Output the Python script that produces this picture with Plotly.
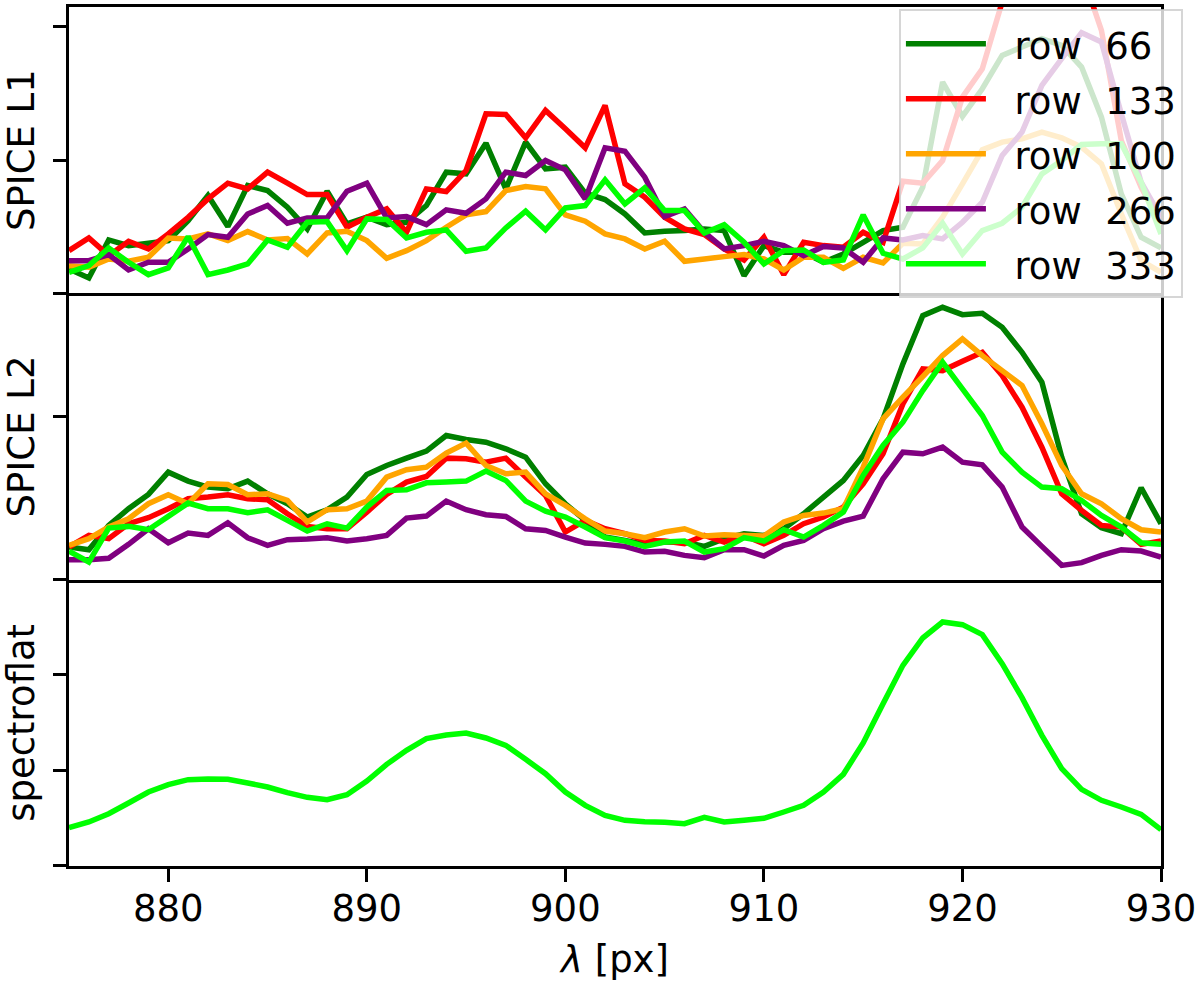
import plotly.graph_objs as go
from plotly.subplots import make_subplots

# wavelength pixels, y units are arbitrary (the original axes have no tick labels)
px = list(range(875, 931))

l1_row66 = [73, 46, 160, 143, 150, 158, 218, 293, 200, 323, 308, 258, 193, 306, 208, 228, 206, 213, 263, 363, 358, 450, 313, 453, 373, 378, 300, 281,
            238, 181, 186, 188, 193, 188, 53, 143, 123, 123, 93, 118, 153, 188, 198, 318, 633, 530, 613, 713, 738, 763, 743, 678, 528, 298, 168, 136]
l1_row133 = [128, 166, 113, 156, 133, 178, 228, 283, 330, 313, 363, 330, 296, 296, 198, 228, 253, 183, 313, 305, 368, 538, 536, 466, 548, 493, 436, 563,
             328, 288, 228, 193, 176, 133, 100, 168, 56, 153, 143, 138, 183, 153, 336, 330, 398, 588, 673, 873, 1118, 1178, 1158, 963, 788, 458, 318, 208]
l1_row100 = [83, 78, 103, 96, 108, 166, 163, 178, 158, 185, 160, 164, 118, 181, 186, 158, 105, 128, 158, 198, 235, 245, 308, 320, 313, 235, 216, 178,
             163, 133, 156, 96, 103, 110, 116, 103, 70, 108, 108, 75, 108, 91, 150, 148, 228, 328, 430, 453, 463, 483, 466, 438, 388, 238, 98, 63]
l1_row266 = [98, 98, 116, 70, 93, 93, 133, 176, 168, 238, 263, 210, 226, 226, 306, 330, 226, 230, 206, 250, 240, 283, 363, 353, 398, 370, 283, 436,
             426, 348, 230, 253, 183, 133, 143, 156, 143, 113, 140, 136, 93, 166, 160, 173, 163, 213, 273, 413, 483, 623, 703, 781, 753, 538, 333, 228]
l1_row333 = [63, 83, 136, 93, 56, 76, 170, 56, 70, 88, 160, 138, 213, 215, 128, 223, 221, 166, 183, 190, 126, 136, 196, 246, 190, 256, 263, 340,
             268, 316, 248, 248, 181, 206, 153, 88, 128, 130, 93, 100, 235, 120, 103, 136, 210, 118, 188, 210, 258, 358, 398, 446, 448, 448, 333, 178]

l2_row66 = [98, 90, 163, 213, 256, 323, 296, 278, 273, 296, 258, 228, 188, 210, 248, 316, 343, 365, 386, 433, 421, 413, 393, 368, 288, 228, 178, 128,
            118, 106, 113, 113, 100, 123, 138, 133, 153, 198, 248, 298, 373, 483, 648, 793, 818, 796, 800, 758, 683, 593, 368, 198, 156, 138, 276, 168]
l2_row133 = [98, 133, 123, 168, 186, 213, 243, 248, 255, 243, 240, 198, 160, 153, 153, 203, 256, 293, 310, 365, 363, 353, 365, 308, 253, 143, 178, 153,
             138, 118, 116, 108, 133, 113, 133, 108, 133, 168, 188, 218, 288, 378, 528, 633, 628, 656, 683, 613, 518, 398, 258, 208, 163, 158, 106, 116]
l2_row100 = [103, 123, 158, 183, 228, 255, 228, 288, 286, 255, 258, 238, 173, 210, 213, 236, 308, 330, 338, 380, 410, 343, 318, 323, 258, 223, 183, 146,
             138, 126, 143, 153, 131, 135, 133, 131, 173, 193, 200, 213, 338, 483, 548, 610, 673, 723, 673, 628, 583, 468, 343, 258, 228, 183, 150, 143]
l2_row266 = [60, 60, 64, 106, 153, 111, 140, 133, 171, 126, 103, 120, 122, 126, 116, 123, 133, 185, 191, 236, 210, 195, 190, 153, 148, 128, 110, 106,
             100, 83, 85, 73, 66, 90, 90, 71, 103, 118, 153, 176, 191, 303, 383, 378, 398, 353, 345, 278, 158, 100, 43, 51, 73, 90, 86, 68]
l2_row333 = [86, 53, 155, 160, 150, 190, 230, 213, 213, 201, 210, 178, 146, 168, 155, 218, 268, 270, 291, 293, 296, 326, 298, 236, 206, 188, 158, 126,
             116, 100, 113, 116, 83, 93, 126, 116, 150, 128, 163, 203, 313, 403, 473, 568, 653, 573, 493, 383, 323, 278, 273, 238, 193, 158, 111, 106]

spectroflat = [115, 132, 157, 189, 222, 244, 259, 261, 260, 249, 237, 220, 206, 199, 214, 255, 305, 347, 382, 393, 399, 384, 362, 320, 277, 222, 182, 152,
               137, 133, 131, 127, 146, 132, 137, 143, 162, 182, 222, 275, 369, 487, 602, 684, 732, 724, 694, 607, 505, 392, 292, 230, 197, 177, 155, 109]

rows = ['66', '133', '100', '266', '333']
colors = ['#008000', '#ff0000', '#ffa500', '#800080', '#00ff00']
font_size = 37

# legend font is bigger than the span inside it, that gives the wider row spacing
names = ['<span style="font-size:%dpx">\u00a0\u00a0row\u00a0\u00a0%s</span>' % (font_size, r) for r in rows]

fig = make_subplots(rows=3, cols=1, shared_xaxes=True, vertical_spacing=0)

l1 = [l1_row66, l1_row133, l1_row100, l1_row266, l1_row333]
l2 = [l2_row66, l2_row133, l2_row100, l2_row266, l2_row333]
for i in range(5):
    fig.add_trace(go.Scatter(x=px, y=l1[i], mode='lines', name=names[i], line=dict(color=colors[i], width=5.5, simplify=False)), row=1, col=1)
    fig.add_trace(go.Scatter(x=px, y=l2[i], mode='lines', showlegend=False, line=dict(color=colors[i], width=5.5, simplify=False)), row=2, col=1)
fig.add_trace(go.Scatter(x=px, y=spectroflat, mode='lines', showlegend=False, line=dict(color='#00ff00', width=5.5, simplify=False)), row=3, col=1)

axis_style = dict(showline=True, linecolor='black', linewidth=2.5, showgrid=False, zeroline=False,
                  ticks='outside', ticklen=13, tickwidth=2.5, tickcolor='black')

fig.update_xaxes(range=[875, 930], tickmode='array', tickvals=[880, 890, 900, 910, 920, 930], **axis_style)
# only the top panel mirrors its x line, otherwise the lines between panels double up
fig.update_xaxes(ticks='', mirror=True, row=1, col=1)
fig.update_xaxes(ticks='', row=2, col=1)
fig.update_xaxes(tickfont=dict(size=font_size), ticklabelstandoff=-5,
                 title=dict(text='<i>λ</i> [px]', font=dict(size=font_size), standoff=17), row=3, col=1)

fig.update_yaxes(range=[0, 858], tickmode='array', tickvals=[0, 398, 800], showticklabels=False, mirror=True,
                 title=dict(text='SPICE L1', font=dict(size=font_size), standoff=9), row=1, col=1, **axis_style)
fig.update_yaxes(range=[0, 860], tickmode='array', tickvals=[0, 490], showticklabels=False, mirror=True,
                 title=dict(text='SPICE L2', font=dict(size=font_size), standoff=9), row=2, col=1, **axis_style)
fig.update_yaxes(range=[0, 859], tickmode='array', tickvals=[0, 286, 573], showticklabels=False, mirror=True,
                 title=dict(text='spectroflat', font=dict(size=font_size), standoff=9), row=3, col=1, **axis_style)

fig.update_layout(
    width=1200,
    height=984,
    margin=dict(l=68.6, r=39, t=6.7, b=118.3, autoexpand=False),
    paper_bgcolor='white',
    plot_bgcolor='white',
    font=dict(family='DejaVu Sans', color='black', size=font_size),
    showlegend=True,
    legend=dict(x=0.76, y=0.9973, xanchor='left', yanchor='top', bgcolor='rgba(255,255,255,0.8)',
                bordercolor='rgba(204,204,204,0.8)', borderwidth=2, itemwidth=80, tracegroupgap=0,
                entrywidth=211, entrywidthmode='pixels', font=dict(size=40)),
)

fig.write_html("out.html", config={'displayModeBar': False}, post_script="document.body.style.margin='0';")
